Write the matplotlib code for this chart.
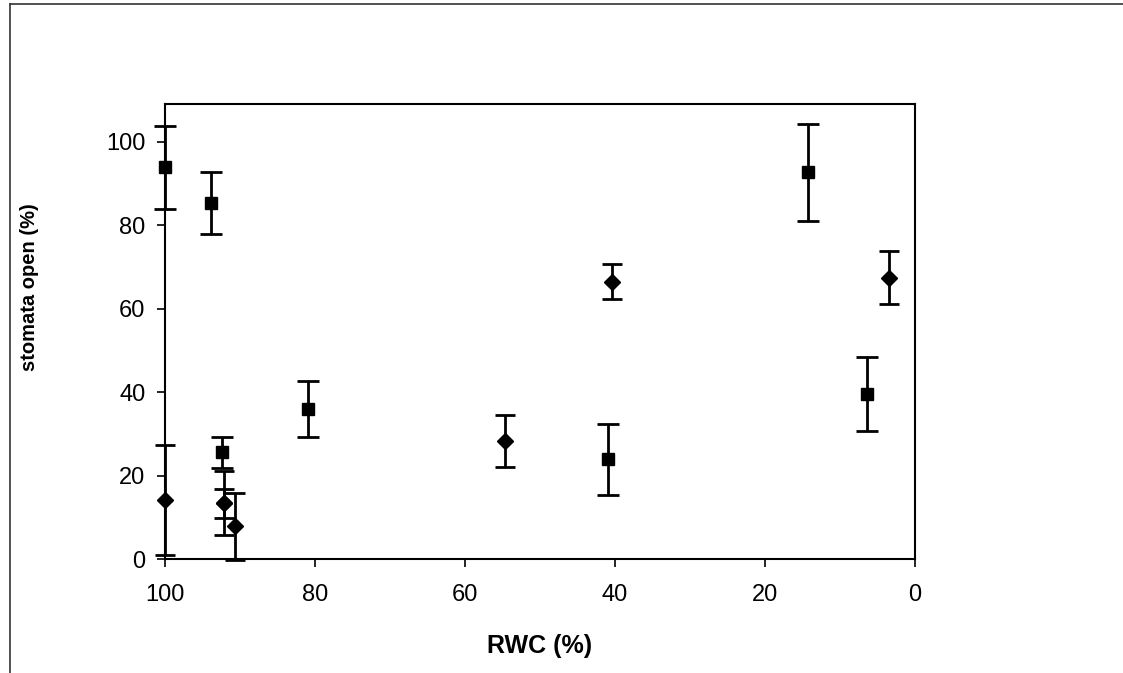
import matplotlib.pyplot as plt
from matplotlib.lines import Line2D

plt.rcParams['font.family'] = ['Liberation Sans', 'DejaVu Sans']

# square series (RWC %, stomata open %, error)
sq_x = [100.0, 93.9, 92.4, 80.9, 41.0, 14.2, 6.4]
sq_y = [93.8, 85.2, 25.6, 35.9, 23.9, 92.6, 39.5]
sq_err = [10.0, 7.4, 3.7, 6.7, 8.5, 11.6, 8.8]

# diamond series
di_x = [100.0, 92.1, 92.1, 90.65, 54.6, 40.4, 3.4]
di_y = [14.2, 13.4, 13.3, 7.8, 28.3, 66.4, 67.4]
di_err = [13.2, 7.6, 3.5, 8.1, 6.2, 4.2, 6.4]

fig = plt.figure(figsize=(11.23, 6.73), dpi=100)
ax = fig.add_axes([165 / 1123, 1 - 559 / 673, 750 / 1123, 455 / 673])

for x, y, e, m, ms, cs in [(sq_x, sq_y, sq_err, 's', 9, 8),
                           (di_x, di_y, di_err, 'D', 8.5, 7)]:
    cont = ax.errorbar(x, y, yerr=e, fmt=m, color='black', ms=ms,
                       ecolor='black', elinewidth=2, capsize=cs, capthick=2)
    for art in cont.lines[1] + cont.lines[2]:
        art.set_clip_on(False)
    cont.lines[0].set_clip_on(False)

ax.set_xlim(100, 0)
ax.set_ylim(0, 109)
ax.set_xticks([100, 80, 60, 40, 20, 0])
ax.set_yticks([0, 20, 40, 60, 80, 100])
ax.tick_params(axis='both', labelsize=17, length=6, width=1.2, direction='out')
ax.tick_params(axis='y', pad=8)
ax.tick_params(axis='x', pad=12)
for s in ax.spines.values():
    s.set_linewidth(1.5)

ax.set_xlabel('RWC (%)', fontsize=18, fontweight='bold', labelpad=20)
fig.text(30 / 1123, 1 - 287 / 673, 'stomata open (%)', rotation=90,
         fontsize=14.5, fontweight='bold', ha='center', va='center')

# outer frame (left and top edges only)
fig.add_artist(Line2D([10 / 1123, 10 / 1123], [0, 1 - 4 / 673],
                      transform=fig.transFigure, color='#333333', lw=1.2))
fig.add_artist(Line2D([10 / 1123, 1], [1 - 4 / 673, 1 - 4 / 673],
                      transform=fig.transFigure, color='#333333', lw=1.2))

fig.savefig('out.png', dpi=100)
